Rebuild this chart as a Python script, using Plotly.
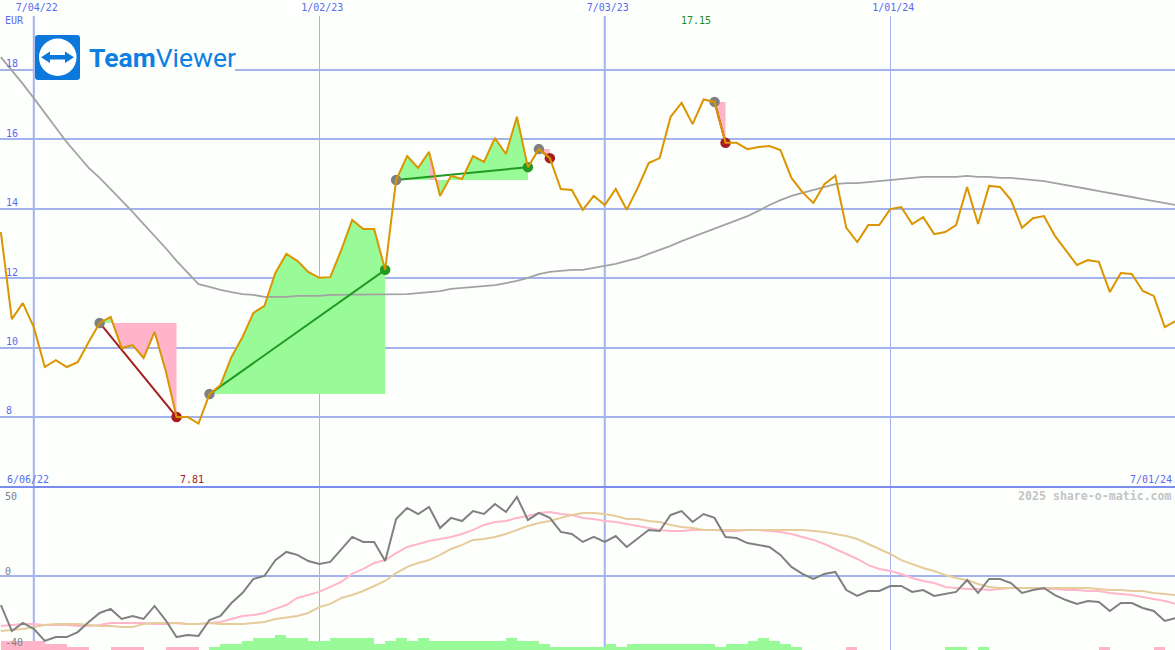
import pandas as pd
import plotly.graph_objects as go

# ---------- data (weekly closes from 2022-06-13) ----------
PRICE = [13.33,10.82,11.28,10.59,9.44,9.64,9.44,9.58,10.16,10.71,10.88,9.99,10.07,9.70,10.45,9.35,8.00,8.00,7.81,8.66,
         8.92,9.73,10.30,11.00,11.20,12.15,12.70,12.50,12.18,12.01,12.03,12.81,13.68,13.42,13.42,12.24,14.83,15.52,15.18,15.64,
         14.37,14.95,14.86,15.52,15.35,16.04,15.58,16.65,15.20,15.72,15.46,14.57,14.54,13.97,14.37,14.11,14.57,13.97,14.60,15.32,
         15.46,16.65,17.05,16.44,17.15,17.08,15.90,15.90,15.72,15.78,15.81,15.69,14.89,14.48,14.17,14.71,14.95,13.45,13.04,13.53,
         13.53,13.99,14.05,13.56,13.76,13.27,13.33,13.53,14.63,13.56,14.66,14.63,14.25,13.45,13.73,13.79,13.22,12.81,12.38,12.52,
         12.47,11.60,12.15,12.12,11.63,11.49,10.59,10.77]
LONG_AVG = [18.37,18.00,17.60,17.19,16.76,16.33,15.92,15.55,15.18,14.89,14.57,14.25,13.91,13.56,13.22,12.87,12.50,12.15,11.83,11.75,
            11.66,11.60,11.54,11.52,11.46,11.46,11.46,11.49,11.49,11.49,11.52,11.52,11.54,11.54,11.54,11.54,11.54,11.54,11.57,11.60,
            11.63,11.69,11.72,11.75,11.77,11.80,11.86,11.92,12.01,12.12,12.18,12.21,12.24,12.24,12.29,12.35,12.41,12.50,12.58,12.70,
            12.81,12.93,13.07,13.19,13.33,13.45,13.56,13.68,13.79,13.94,14.11,14.25,14.37,14.46,14.54,14.63,14.71,14.74,14.74,14.77,
            14.80,14.83,14.86,14.89,14.92,14.92,14.92,14.92,14.95,14.92,14.92,14.89,14.89,14.86,14.83,14.80,14.74,14.69,14.63,14.57,
            14.51,14.46,14.40,14.34,14.28,14.22,14.17,14.11]
OSC = [-15.7,-29.7,-25.4,-28.6,-35.1,-33.0,-33.0,-30.3,-24.9,-20.0,-17.8,-23.2,-21.6,-23.2,-16.2,-23.8,-33.0,-31.9,-32.4,-23.8,
       -21.6,-14.6,-9.2,-1.6,0.0,8.6,13.0,11.4,8.1,6.5,7.6,14.6,21.1,18.4,18.4,8.1,30.8,36.8,33.5,37.3,
       25.9,31.4,29.7,35.1,33.5,38.9,34.6,42.7,30.3,34.1,31.4,23.8,22.7,18.4,21.1,18.4,21.6,15.7,20.5,24.9,
       24.3,33.0,35.1,29.2,33.5,31.4,21.1,20.5,17.8,16.8,15.7,11.4,4.9,1.1,-1.6,1.1,2.2,-7.6,-10.8,-8.1,
       -8.1,-5.4,-5.4,-8.6,-7.6,-10.8,-9.7,-8.6,-2.2,-9.2,-1.6,-1.6,-3.8,-9.2,-7.6,-6.5,-10.3,-13.0,-15.1,-13.5,
       -14.1,-18.9,-14.6,-14.6,-17.3,-18.9,-24.3,-22.7]
OSC_FAST = [-27.0,-26.5,-25.9,-25.9,-26.5,-26.5,-26.5,-27.0,-27.0,-26.5,-25.4,-25.4,-25.4,-25.4,-25.9,-25.9,-25.4,-25.9,-25.9,-25.4,
            -24.9,-23.2,-21.6,-21.1,-20.0,-17.8,-15.7,-11.9,-10.3,-8.6,-5.9,-3.2,1.1,3.8,7.0,8.6,12.4,15.7,17.3,18.9,
            20.0,21.1,22.7,24.9,27.6,29.2,29.7,31.4,32.4,34.1,34.6,33.5,33.0,31.4,30.8,29.7,29.2,28.1,27.0,25.9,
            24.9,24.3,24.3,24.9,24.9,24.9,24.3,24.3,24.9,24.9,24.3,23.8,22.7,21.1,19.5,17.3,14.6,11.9,9.2,5.9,
            3.8,2.7,1.1,-1.1,-2.7,-3.8,-5.9,-6.5,-7.0,-7.0,-7.6,-7.0,-6.5,-6.5,-6.5,-7.0,-7.0,-7.6,-7.6,-8.1,
            -8.1,-9.2,-9.7,-10.3,-11.4,-12.4,-13.5,-15.1]
OSC_SLOW = [-29.7,-29.2,-28.6,-27.6,-26.5,-25.9,-25.9,-25.9,-26.5,-27.0,-27.0,-27.6,-27.6,-25.9,-25.4,-25.4,-25.4,-25.9,-25.9,-25.4,
            -25.9,-25.9,-25.9,-25.4,-24.9,-23.2,-22.2,-21.6,-20.0,-16.8,-15.1,-11.9,-10.3,-8.1,-5.4,-2.7,1.6,4.9,7.0,8.6,
            11.4,14.6,16.8,19.5,20.0,21.1,22.7,24.9,27.0,28.6,29.7,31.4,33.0,34.1,34.1,33.5,32.4,30.8,30.8,29.7,
            29.2,27.6,26.5,25.9,24.9,24.9,24.9,24.9,24.9,24.9,24.9,24.9,24.9,24.9,24.3,23.8,22.7,21.6,20.0,17.3,
            14.6,11.9,8.6,6.5,4.3,2.7,0.5,-1.1,-2.2,-4.3,-5.9,-6.5,-6.5,-6.5,-6.5,-6.5,-6.5,-6.5,-6.5,-6.5,
            -7.0,-7.6,-7.6,-8.1,-8.1,-9.2,-9.7,-10.3]
SIGNAL = [-3,-3,-3,-3,-2,-2,-1,-1,0,0,-1,-1,-1,0,0,-1,-1,-1,0,1,
          2,2,3,4,4,5,4,4,3,3,4,4,4,4,2,3,4,3,4,3,
          3,3,3,3,3,3,4,3,3,2,1,1,1,1,1,2,1,2,2,2,
          2,2,2,2,2,1,2,2,3,4,3,2,1,0,0,0,0,-1,0,0,
          0,0,0,0,0,0,1,1,0,1,0,0,0,0,0,0,0,0,0,0,
          -1,0,0,0,0,-1,0,0]
TRADE_ENTRY = [9, 19, 36, 49, 65]
TRADE_EXIT = [16, 35, 48, 50, 66]
PRICE_TICKS = [8, 10, 12, 14, 16, 18]
DATE_TICKS = ["2022-07-04", "2023-01-02", "2023-07-03", "2024-01-01"]
DATE_LABELS = ["7/04/22", "1/02/23", "7/03/23", "1/01/24"]
THICK_DATES = ["2022-07-04", "2023-07-03"]

# ---------- styles ----------
W, H = 1175, 650
BG = "#FDFFFD"
GRID = "#A4B2EE"
SEP = "#7C8CEE"
TXT = "#5A6AF0"
GRAYTXT = "#808080"
ORANGE = "#DA9500"
PINK = "#FFB4C9"
GREEN = "#98FB98"
MONO = "DejaVu Sans Mono"
PX_PER_WEEK = 10.98
ORIGIN_PX = 33.8

dates = pd.date_range("2022-06-13", periods=len(PRICE), freq="7D")
origin = pd.Timestamp("2022-07-04")
xmin = origin - pd.Timedelta(days=7 * ORIGIN_PX / PX_PER_WEEK)
xmax = origin + pd.Timedelta(days=7 * (W - ORIGIN_PX) / PX_PER_WEEK)

def px(x):
    return x / W
def py(y):
    return 1 - y / H

# fills: one bow-tie per week between price and entry level, coloured by where the week ends
polys = {PINK: ([], []), GREEN: ([], [])}
for a, b in zip(TRADE_ENTRY, TRADE_EXIT):
    lvl = PRICE[a]
    for i in range(a, b):
        col = GREEN if PRICE[i + 1] >= lvl else PINK
        xs, ys = polys[col]
        xs += [dates[i], dates[i + 1], dates[i + 1], dates[i], dates[i], None]
        ys += [PRICE[i], PRICE[i + 1], lvl, lvl, PRICE[i], None]

fig = go.Figure()
for col in (PINK, GREEN):
    fig.add_trace(go.Scatter(x=polys[col][0], y=polys[col][1], mode="lines", fill="toself",
                             fillcolor=col, line=dict(width=0), hoverinfo="skip", showlegend=False,
                             xaxis="x", yaxis="y"))
fig.add_trace(go.Scatter(x=dates, y=LONG_AVG, mode="lines", line=dict(color="#A3A3A3", width=1.8),
                         name="long average", showlegend=False, xaxis="x", yaxis="y"))
for a, b in zip(TRADE_ENTRY, TRADE_EXIT):
    win = PRICE[b] >= PRICE[a]
    c = "#229A22" if win else "#A51E1E"
    fig.add_trace(go.Scatter(x=[dates[a], dates[b]], y=[PRICE[a], PRICE[b]], mode="lines",
                             line=dict(color=c, width=2), showlegend=False, xaxis="x", yaxis="y"))
    fig.add_trace(go.Scatter(x=[dates[a]], y=[PRICE[a]], mode="markers",
                             marker=dict(color="#808080", size=10.5), showlegend=False, xaxis="x", yaxis="y"))
    fig.add_trace(go.Scatter(x=[dates[b]], y=[PRICE[b]], mode="markers",
                             marker=dict(color=c, size=10.5), showlegend=False, xaxis="x", yaxis="y"))
fig.add_trace(go.Scatter(x=dates, y=PRICE, mode="lines", line=dict(color=ORANGE, width=2),
                         name="price", showlegend=False, xaxis="x", yaxis="y"))

# lower panel
LOW_MIN = -40
LOW_MAX = 48.1
UNIT = 3 * (LOW_MAX - LOW_MIN) / 163
fig.add_trace(go.Bar(x=dates, y=[abs(v) * UNIT for v in SIGNAL], base=LOW_MIN,
                     marker=dict(color=[GREEN if v > 0 else PINK for v in SIGNAL], line=dict(width=0)),
                     width=7 * 86400000, offset=0, showlegend=False, xaxis="x2", yaxis="y2"))
fig.add_trace(go.Scatter(x=dates, y=OSC_FAST, mode="lines", line=dict(color="#FFB6CB", width=2),
                         showlegend=False, xaxis="x2", yaxis="y2"))
fig.add_trace(go.Scatter(x=dates, y=OSC_SLOW, mode="lines", line=dict(color="#E6CC9C", width=2),
                         showlegend=False, xaxis="x2", yaxis="y2"))
fig.add_trace(go.Scatter(x=dates, y=OSC, mode="lines", line=dict(color="#808080", width=2),
                         showlegend=False, xaxis="x2", yaxis="y2"))

anns = []
def label(x, y, text, color=TXT, size=10, anchor="left", family=MONO):
    anns.append(dict(x=px(x), y=py(y), xref="paper", yref="paper", text=text, showarrow=False,
                     xanchor=anchor, yanchor="middle", align=anchor,
                     font=dict(family=family, size=size, color=color), borderpad=0, borderwidth=0))

label(5, 21, "EUR")
label(7, 479, "6/06/22")
label(1172, 479, "7/01/24", anchor="right")
label(681, 21, f"{max(PRICE):.2f}", color="#1C8C1C")
label(180, 479, f"{min(PRICE):.2f}", color="#A01C1C")
label(5, 496, "50", color=GRAYTXT)
label(5, 571, "0", color=GRAYTXT)
label(5, 642, "-40", color=GRAYTXT)
label(1172, 496, "<b>2025 share-o-matic.com</b>", color="#C4C4C4", size=11.6, anchor="right")
label(89, 58, "<b>Team</b>Viewer", color="#0E80E2", size=26.5, family="Roboto")

shapes = [
    dict(type="line", xref="x", yref="paper", x0=d, x1=d, y0=0, y1=py(16),
         line=dict(color=GRID, width=2), layer="between") for d in THICK_DATES
] + [
    dict(type="line", xref="paper", yref="paper", x0=0, x1=1, y0=py(487), y1=py(487),
         line=dict(color=SEP, width=2), layer="above"),
    dict(type="rect", xref="paper", yref="paper", x0=px(35), x1=px(235), y0=py(85), y1=py(30),
         fillcolor=BG, line=dict(width=0), layer="above"),
    dict(type="path", xref="paper", yref="paper", layer="above", line=dict(width=0), fillcolor="#0C78DC",
         path=(f"M {px(38)} {py(35)} L {px(77)} {py(35)} Q {px(80)} {py(35)} {px(80)} {py(38)} "
               f"L {px(80)} {py(77)} Q {px(80)} {py(80)} {px(77)} {py(80)} L {px(38)} {py(80)} "
               f"Q {px(35)} {py(80)} {px(35)} {py(77)} L {px(35)} {py(38)} Q {px(35)} {py(35)} {px(38)} {py(35)} Z")),
    dict(type="circle", xref="paper", yref="paper", layer="above", line=dict(width=0), fillcolor="#FFFFFF",
         x0=px(39), x1=px(76.5), y0=py(76), y1=py(38.5)),
    dict(type="path", xref="paper", yref="paper", layer="above", line=dict(width=0), fillcolor="#0C78DC",
         path=(f"M {px(41)} {py(57.3)} L {px(50)} {py(51.5)} L {px(50)} {py(55)} L {px(65)} {py(55)} "
               f"L {px(65)} {py(51.5)} L {px(74)} {py(57.3)} L {px(65)} {py(63)} L {px(65)} {py(59.5)} "
               f"L {px(50)} {py(59.5)} L {px(50)} {py(63)} Z")),
]

xbase = dict(range=[xmin, xmax], type="date", showline=False, zeroline=False, ticks="",
             showgrid=True, gridcolor=GRID, gridwidth=1, tickmode="array", tickvals=DATE_TICKS)
fig.update_layout(
    width=W, height=H, margin=dict(l=0, r=0, t=0, b=0), autosize=False,
    paper_bgcolor=BG, plot_bgcolor=BG, showlegend=False, hovermode=False,
    font=dict(family=MONO, size=10, color=TXT),
    xaxis=dict(xbase, domain=[0, 1], anchor="y", side="top", ticktext=DATE_LABELS, showticklabels=True,
               ticklabelshift=3, ticklabelstandoff=2, tickfont=dict(family=MONO, size=10, color=TXT)),
    xaxis2=dict(xbase, domain=[0, 1], anchor="y2", showticklabels=False),
    yaxis=dict(domain=[py(487), py(16)], range=[20.017 - 487 / 34.7, 20.017 - 16 / 34.7], anchor="x",
               tickmode="array", tickvals=PRICE_TICKS, ticktext=[str(t) for t in PRICE_TICKS],
               showgrid=True, gridcolor=GRID, gridwidth=2, zeroline=False, showline=False, ticks="",
               ticklabelposition="inside", ticklabelshift=-6, ticklabelstandoff=3,
               tickfont=dict(family=MONO, size=10, color=TXT)),
    yaxis2=dict(domain=[0, py(487)], range=[LOW_MIN, LOW_MAX], anchor="x2",
                tickmode="array", tickvals=[0], showticklabels=False,
                showgrid=True, gridcolor=GRID, gridwidth=2, zeroline=False, showline=False, ticks=""),
    bargap=0,
    annotations=anns,
    shapes=shapes,
)

fig.write_html("out.html", config=dict(displayModeBar=False),
               post_script="document.body.style.margin='0';document.body.style.background='%s';" % BG)
